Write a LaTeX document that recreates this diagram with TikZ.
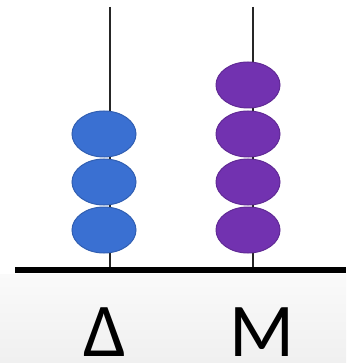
\documentclass[tikz,border=0pt]{standalone}
\usepackage{fontspec}
\setmainfont{Carlito}
\usetikzlibrary{shapes.geometric}
\definecolor{beadblue}{HTML}{3A70D2}
\definecolor{beadpurple}{HTML}{7232B0}
\begin{document}
\begin{tikzpicture}[x=1pt,y=-1pt,
  bead/.style={ellipse, minimum width=64pt, minimum height=46pt, inner sep=0pt, line width=1pt},
  rod/.style={line width=1.5pt, black!85},
  lab/.style={font=\fontsize{76}{76}\selectfont, inner sep=0pt, text depth=0pt, text height=50pt, anchor=base}]
\useasboundingbox (0,0) rectangle (346,363);
\fill[white] (0,0) rectangle (346,363);
\shade[top color=gray!4, bottom color=gray!12] (0,274) rectangle (346,363);
\coordinate (ltop) at (110,7);
\coordinate (lbot) at (110,270);
\coordinate (rtop) at (253,7);
\coordinate (rbot) at (253,270);
\coordinate (bl) at (15,270);
\coordinate (br) at (346,270);
\draw[rod] (ltop) -- (lbot);
\draw[rod] (rtop) -- (rbot);
\foreach \y/\n in {134/1,182/2,230/3}
  \node[bead, fill=beadblue, draw=beadblue!85!black] (lb\n) at (104,\y) {};
\foreach \y/\n in {85/1,134/2,182/3,230/4}
  \node[bead, fill=beadpurple, draw=beadpurple!85!black] (rb\n) at (248,\y) {};
\draw[line width=6pt] (bl) -- (br);
\node[lab] (delta) at (105,356) {Δ};
\node[lab] (m) at (262,356) {M};
\end{tikzpicture}
\end{document}
